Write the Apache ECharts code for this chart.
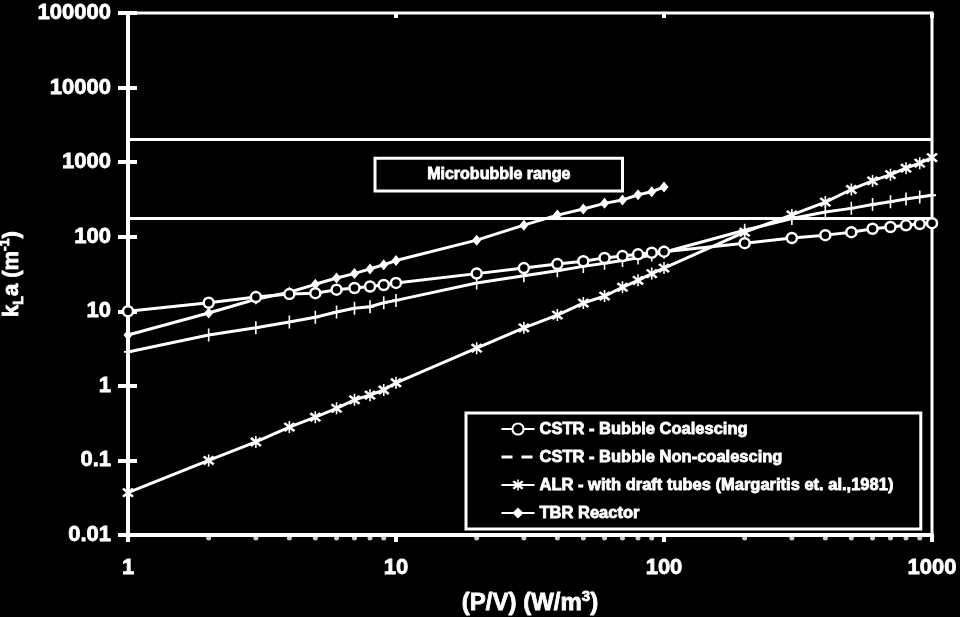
<!DOCTYPE html>
<html>
<head>
<meta charset="utf-8">
<script src="https://cdn.jsdelivr.net/npm/echarts@6/dist/echarts.min.js"></script>
<style>html,body{margin:0;padding:0;background:#000;}#c{width:960px;height:617px;}</style>
</head>
<body>
<div id="c"></div>
<script>
// ---- data ----
const pv = [1,2,3,4,5,6,7,8,9,10,20,30,40,50,60,70,80,90,100,200,300,400,500,600,700,800,900,1000];
const pvTBR = [1,2,3,4,5,6,7,8,9,10,20,30,40,50,60,70,80,90,100];
const cstrCoalescing = [10,13,15.5,17,17.5,19.5,20.5,21.5,22.5,24,32,38,43,47,52,55,58,61,63,82,96,105,115,128,135,142,148,152];
const cstrNonCoalescing = [2.85,4.8,6,7.2,8.3,9.8,11,11.5,13,14,24,30,35,40,44,48,52,57,62,122,175,215,240,270,295,320,340,360];
const alrDraftTubes = [0.037,0.1,0.177,0.28,0.38,0.5,0.65,0.75,0.88,1.1,3.2,6,8.9,12.9,16,21,26,32,38,115,196,291,430,560,680,830,970,1150];
const tbrReactor = [4.8,9.5,14.5,18,23,28,32,37,42,48,90,143,195,235,280,310,365,400,465];
const seriesNames = ['CSTR - Bubble Coalescing','CSTR - Bubble Non-coalescing','ALR - with draft tubes (Margaritis et. al.,1981)','TBR Reactor'];
const microbubbleRange = [175, 2000];
const microbubbleBox = {x: [8.35, 70], y: [410, 1130], label: 'Microbubble range'};
const xTickLabels = ['1','10','100','1000'];
const xMinorTicks = [2,3,4,5,6,7,8,9,20,30,40,50,60,70,80,90,200,300,400,500,600,700,800,900];
const yTickLabels = ['0.01','0.1','1','10','100','1000','10000','100000'];

const pair = (xs, ys) => xs.map((x, i) => [x, ys[i]]);
const F = 'Liberation Sans, Arial, sans-serif';
const W = '#fff';
const TB = {textBorderColor: W, textBorderWidth: 0.8};
const starPath = 'path://M2,0.5 L5,3.5 L8,0.5 L9.5,2 L6.5,5 L9.5,8 L8,9.5 L5,6.5 L2,9.5 L0.5,8 L3.5,5 L0.5,2 Z M4.4,-0.5 H5.6 V10.5 H4.4 Z';
const plusPath = 'path://M4,0 H6 V4.3 H10 V5.7 H6 V10 H4 V5.7 H0 V4.3 H4 Z';

const labelX = v => xTickLabels[Math.round(Math.log10(v))] || '';
const labelY = v => yTickLabels[Math.round(Math.log10(v)) + 2] || '';

const baseX = {type: 'log', logBase: 10, min: 1, max: 1000, splitLine: {show: false}};
const baseY = {type: 'log', logBase: 10, min: 0.01, max: 100000, splitLine: {show: false}};

const chart = echarts.init(document.getElementById('c'));
chart.setOption({
  backgroundColor: '#000',
  animation: false,
  textStyle: {fontFamily: F},
  grid: {left: 128, right: 28, top: 13, bottom: 82, show: true, borderColor: W, borderWidth: 3,
         backgroundColor: 'transparent', containLabel: false, outerBoundsMode: 'none'},
  xAxis: [
    Object.assign({}, baseX, {
      axisLine: {lineStyle: {color: W, width: 4}},
      axisTick: {show: true, length: 7, lineStyle: {color: W, width: 4}},
      axisLabel: Object.assign({color: W, fontSize: 22, fontWeight: 'bold', fontFamily: F, margin: 22, formatter: labelX}, TB),
      name: '{t|(P/V) (W/m}{p|3}{t|)}',
      nameLocation: 'middle', nameGap: 54,
      nameTextStyle: {rich: {
        t: Object.assign({color: W, fontSize: 24, fontWeight: 'bold', fontFamily: F, lineHeight: 28}, TB),
        p: Object.assign({color: W, fontSize: 15, fontWeight: 'bold', fontFamily: F, verticalAlign: 'top', lineHeight: 28, padding: [0,0,8,0]}, TB)
      }}
    }),
    Object.assign({}, baseX, {
      axisLine: {show: false},
      axisTick: {show: true, inside: true, length: 5, lineStyle: {color: W, width: 4}},
      axisLabel: {show: false}
    })
  ],
  yAxis: [
    Object.assign({}, baseY, {
      axisLine: {lineStyle: {color: W, width: 4}},
      axisTick: {show: true, length: 10, lineStyle: {color: W, width: 4}},
      axisLabel: Object.assign({color: W, fontSize: 22, fontWeight: 'bold', fontFamily: F, margin: 17, formatter: labelY}, TB),
      name: '{k|k}{s|L}{k|a (m}{p|-1}{k|)}',
      nameLocation: 'middle', nameGap: 94, nameRotate: 90,
      nameTextStyle: {rich: {
        k: Object.assign({color: W, fontSize: 22, fontWeight: 'bold', fontFamily: F, lineHeight: 28}, TB),
        s: Object.assign({color: W, fontSize: 14, fontWeight: 'bold', fontFamily: F, verticalAlign: 'bottom', lineHeight: 28, padding: [8,0,0,0]}, TB),
        p: Object.assign({color: W, fontSize: 14, fontWeight: 'bold', fontFamily: F, verticalAlign: 'top', lineHeight: 28, padding: [0,0,8,0]}, TB)
      }}
    }),
    Object.assign({}, baseY, {
      position: 'left',
      axisLine: {show: false},
      axisTick: {show: true, inside: true, length: 9, lineStyle: {color: W, width: 4}},
      axisLabel: {show: false}
    })
  ],
  legend: {
    orient: 'vertical', left: 466, top: 413,
    padding: [7, 27, 7, 34],
    itemGap: 10, itemWidth: 33, itemHeight: 14,
    backgroundColor: '#000', borderColor: W, borderWidth: 3, borderRadius: 0,
    textStyle: Object.assign({color: W, fontSize: 16.5, fontWeight: 'bold', fontFamily: F, lineHeight: 18}, TB),
    data: [
      {name: seriesNames[0]},
      {name: seriesNames[1], itemStyle: {opacity: 0}, lineStyle: {type: [11, 9], width: 3}},
      {name: seriesNames[2]},
      {name: seriesNames[3]}
    ]
  },
  series: [
    {
      name: seriesNames[0], type: 'line', data: pair(pv, cstrCoalescing),
      symbol: 'circle', symbolSize: 10, color: W,
      itemStyle: {color: '#000', borderColor: W, borderWidth: 2.5},
      lineStyle: {color: W, width: 3}, z: 5,
      markLine: {
        silent: true, symbol: 'none', label: {show: false},
        lineStyle: {color: W, width: 3, type: 'solid'},
        data: microbubbleRange.map(v => ({yAxis: v}))
      },
      markArea: {
        silent: true,
        itemStyle: {color: '#000', borderColor: W, borderWidth: 3},
        label: Object.assign({show: true, position: 'inside', color: W, fontSize: 16, fontWeight: 'bold', fontFamily: F}, TB),
        data: [[{name: microbubbleBox.label, coord: [microbubbleBox.x[0], microbubbleBox.y[1]]}, {coord: [microbubbleBox.x[1], microbubbleBox.y[0]]}]]
      }
    },
    {
      name: seriesNames[1], type: 'line', data: pair(pv, cstrNonCoalescing),
      symbol: plusPath, symbolSize: [8, 13], color: W,
      itemStyle: {color: W}, lineStyle: {color: W, width: 3}, z: 4
    },
    {
      name: seriesNames[2], type: 'line', data: pair(pv, alrDraftTubes),
      symbol: starPath, symbolSize: 12, color: W,
      itemStyle: {color: W}, lineStyle: {color: W, width: 3}, z: 4
    },
    {
      name: seriesNames[3], type: 'line', data: pair(pvTBR, tbrReactor),
      symbol: 'diamond', symbolSize: [9, 11], color: W,
      itemStyle: {color: W}, lineStyle: {color: W, width: 3}, z: 4
    },
    {
      name: 'minor ticks', type: 'scatter', data: xMinorTicks.map(x => [x, 0.01]),
      symbol: 'circle', symbolSize: 5, symbolOffset: [0, 3], clip: false, silent: true,
      itemStyle: {color: W}, z: 3
    }
  ]
});
</script>
</body>
</html>
